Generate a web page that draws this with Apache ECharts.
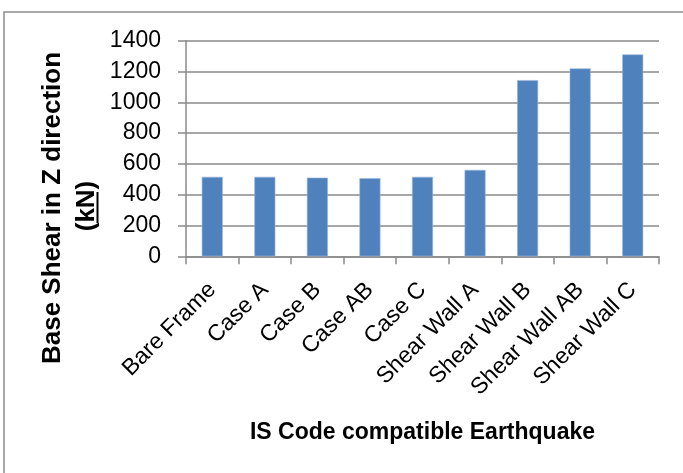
<!DOCTYPE html>
<html>
<head>
<meta charset="utf-8">
<script src="https://cdn.jsdelivr.net/npm/echarts@6/dist/echarts.min.js"></script>
<style>
  html, body { margin: 0; padding: 0; background: #fff; }
  #chart { width: 683px; height: 473px; }
</style>
</head>
<body>
<div id="chart"></div>
<script>
// Base shear per model configuration (kN)
const categories = ['Bare Frame', 'Case A', 'Case B', 'Case AB', 'Case C',
  'Shear Wall A', 'Shear Wall B', 'Shear Wall AB', 'Shear Wall C'];
const baseShear = [516, 516, 511, 507, 516, 561, 1144, 1220, 1311];
const yTicks = [0, 200, 400, 600, 800, 1000, 1200, 1400];

const yTitle = 'Base Shear in Z direction';
const yUnit = '(kN)';
const xTitle = 'IS Code compatible Earthquake';

const FONT = '"Liberation Sans", Arial, sans-serif';
const GRID_COLOR = '#8a8a8a';

const chart = echarts.init(document.getElementById('chart'), null, { renderer: 'canvas' });

chart.setOption({
  animation: false,
  backgroundColor: '#ffffff',
  grid: { left: 186, right: 24, top: 40.7, bottom: 216.7, containLabel: false },
  xAxis: {
    type: 'category',
    data: categories,
    boundaryGap: true,
    axisLine: { show: true, lineStyle: { color: GRID_COLOR, width: 1.5 } },
    axisTick: { show: true, alignWithLabel: false, length: 8, lineStyle: { color: GRID_COLOR, width: 1.5 } },
    axisLabel: {
      interval: 0, rotate: 45, margin: 30,
      fontFamily: FONT, fontSize: 23, color: '#000'
    },
    name: xTitle,
    nameLocation: 'middle',
    nameGap: 165,
    nameTextStyle: { fontFamily: FONT, fontSize: 23, fontWeight: 'bold', color: '#000' }
  },
  yAxis: {
    type: 'value',
    min: yTicks[0],
    max: yTicks[yTicks.length - 1],
    interval: yTicks[1] - yTicks[0],
    axisLine: { show: true, lineStyle: { color: GRID_COLOR, width: 1.5 } },
    axisTick: { show: true, inside: false, length: 8, lineStyle: { color: GRID_COLOR, width: 1.5 } },
    axisLabel: {
      margin: 25, fontFamily: FONT, fontSize: 23, color: '#000',
      formatter: function (v) { return String(v); }
    },
    splitLine: { show: true, lineStyle: { color: GRID_COLOR, width: 1.5 } }
  },
  series: [{
    type: 'bar',
    data: baseShear,
    barWidth: 21,
    itemStyle: { color: '#4f81bd', borderColor: '#9bb7dd', borderWidth: 0.6 }
  }],
  graphic: [
    // chart-area frame
    {
      type: 'rect', silent: true,
      shape: { x: 4, y: 12, width: 720, height: 520 },
      style: { fill: 'none', stroke: '#8c8c8c', lineWidth: 1.5 }
    },
    // vertical axis title, two lines
    {
      type: 'text', silent: true,
      x: 53, y: 208, rotation: Math.PI / 2,
      style: {
        text: yTitle, fontFamily: FONT, fontSize: 26, fontWeight: 'bold',
        fill: '#000', align: 'center', verticalAlign: 'middle'
      }
    },
    {
      type: 'text', silent: true,
      x: 87, y: 206, rotation: Math.PI / 2,
      style: {
        text: yUnit, fontFamily: FONT, fontSize: 26, fontWeight: 'bold',
        fill: '#000', align: 'center', verticalAlign: 'middle'
      }
    },
    // underline beneath "kN"
    {
      type: 'line', silent: true,
      shape: { x1: 97.5, y1: 192, x2: 97.5, y2: 223 },
      style: { stroke: '#000', lineWidth: 2 }
    }
  ]
});
</script>
</body>
</html>
